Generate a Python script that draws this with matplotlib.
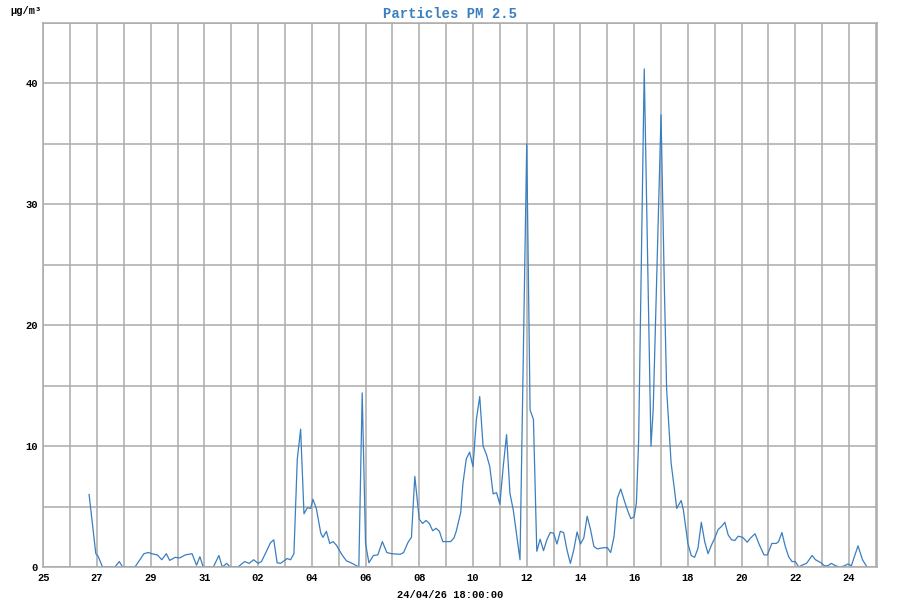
import matplotlib
matplotlib.use("Agg")
import matplotlib.pyplot as plt
import matplotlib.dates as mdates
import pandas as pd

# PM 2.5 readings (month-day hour, ug/m3)
times = [
    "03-26 17", "03-26 23", "03-27 01", "03-27 05", "03-27 16", "03-27 20", "03-27 23",
    "03-28 10", "03-28 18", "03-28 22", "03-29 01", "03-29 06", "03-29 10", "03-29 14",
    "03-29 17", "03-29 22", "03-30 02", "03-30 07", "03-30 13", "03-30 17", "03-30 20",
    "03-30 23", "03-31 08", "03-31 13", "03-31 16", "03-31 20", "03-31 23", "04-01 06",
    "04-01 12", "04-01 16", "04-01 20", "04-02 00", "04-02 03", "04-02 08", "04-02 11",
    "04-02 14", "04-02 17", "04-02 20", "04-03 02", "04-03 05", "04-03 08", "04-03 11",
    "04-03 14", "04-03 17", "04-03 20", "04-03 23", "04-04 01", "04-04 04", "04-04 08",
    "04-04 10", "04-04 13", "04-04 16", "04-04 19", "04-04 22", "04-05 03", "04-05 07",
    "04-05 11", "04-05 15", "04-05 18", "04-05 21", "04-06 00", "04-06 03", "04-06 07",
    "04-06 11", "04-06 15", "04-06 19", "04-06 23", "04-07 07", "04-07 10", "04-07 14",
    "04-07 17", "04-07 20", "04-08 00", "04-08 03", "04-08 06", "04-08 09", "04-08 12",
    "04-08 15", "04-08 18", "04-08 21", "04-09 04", "04-09 07", "04-09 09", "04-09 13",
    "04-09 15", "04-09 18", "04-09 21", "04-10 00", "04-10 03", "04-10 06", "04-10 09",
    "04-10 12", "04-10 15", "04-10 18", "04-10 21", "04-11 00", "04-11 03", "04-11 06",
    "04-11 09", "04-11 12", "04-11 15", "04-11 18", "04-12 00", "04-12 03", "04-12 06",
    "04-12 09", "04-12 12", "04-12 15", "04-12 18", "04-12 21", "04-13 00", "04-13 03",
    "04-13 06", "04-13 09", "04-13 12", "04-13 15", "04-13 18", "04-13 21", "04-14 00",
    "04-14 03", "04-14 06", "04-14 09", "04-14 12", "04-14 15", "04-14 21", "04-15 00",
    "04-15 03", "04-15 06", "04-15 09", "04-15 12", "04-15 15", "04-15 18", "04-15 21",
    "04-16 00", "04-16 02", "04-16 04", "04-16 09", "04-16 15", "04-16 17", "04-17 00",
    "04-17 03", "04-17 05", "04-17 09", "04-17 12", "04-17 14", "04-17 18", "04-17 20",
    "04-18 00", "04-18 03", "04-18 06", "04-18 09", "04-18 12", "04-18 15", "04-18 18",
    "04-18 21", "04-19 00", "04-19 03", "04-19 06", "04-19 09", "04-19 12", "04-19 15",
    "04-19 18", "04-19 21", "04-20 01", "04-20 05", "04-20 08", "04-20 12", "04-20 16",
    "04-20 20", "04-20 23", "04-21 03", "04-21 07", "04-21 09", "04-21 12", "04-21 15",
    "04-21 18", "04-21 21", "04-22 00", "04-22 03", "04-22 06", "04-22 10", "04-22 15",
    "04-22 18", "04-22 23", "04-23 02", "04-23 05", "04-23 08", "04-23 12", "04-23 16",
    "04-23 20", "04-23 23", "04-24 02", "04-24 08", "04-24 12", "04-24 16",
]
pm25 = [
    6.0, 1.1, 0.9, 0.0, 0.0, 0.45, 0.0,
    0.0, 1.1, 1.2, 1.1, 1.0, 0.6, 1.1,
    0.55, 0.8, 0.75, 1.0, 1.1, 0.15, 0.85,
    0.0, 0.0, 0.95, 0.0, 0.3, 0.0, 0.0,
    0.45, 0.3, 0.6, 0.3, 0.45, 1.4, 2.0,
    2.25, 0.35, 0.3, 0.7, 0.6, 1.1, 8.9,
    11.4, 4.4, 4.9, 4.85, 5.6, 4.85, 2.8,
    2.45, 2.95, 1.95, 2.1, 1.8, 1.0, 0.5,
    0.35, 0.15, 0.0, 14.4, 1.95, 0.35, 0.95,
    1.0, 2.1, 1.2, 1.1, 1.05, 1.2, 2.05,
    2.45, 7.5, 3.95, 3.6, 3.85, 3.6, 3.0,
    3.2, 2.95, 2.1, 2.1, 2.4, 2.95, 4.5,
    6.9, 8.95, 9.5, 8.3, 12.2, 14.1, 10.0,
    9.3, 8.3, 6.05, 6.15, 5.2, 8.3, 10.95,
    6.1, 4.7, 2.65, 0.6, 35.0, 13.0, 12.2,
    1.3, 2.3, 1.35, 2.25, 2.85, 2.8, 1.9,
    2.95, 2.85, 1.4, 0.3, 1.4, 2.9, 1.9,
    2.4, 4.2, 3.1, 1.7, 1.5, 1.6, 1.6,
    1.2, 2.5, 5.7, 6.45, 5.55, 4.7, 4.0,
    4.15, 5.3, 10.5, 41.2, 10.0, 13.0, 37.4,
    23.0, 14.7, 8.6, 6.4, 4.85, 5.5, 4.7,
    1.95, 0.95, 0.8, 1.55, 3.7, 2.1, 1.1,
    1.8, 2.4, 3.1, 3.35, 3.7, 2.65, 2.25,
    2.2, 2.55, 2.45, 2.05, 2.4, 2.75, 1.8,
    1.0, 1.0, 1.95, 1.95, 2.1, 2.85, 1.7,
    0.85, 0.45, 0.45, 0.0, 0.15, 0.3, 0.95,
    0.6, 0.35, 0.1, 0.1, 0.3, 0.1, 0.0,
    0.1, 0.25, 0.1, 1.75, 0.6, 0.0,
]

df = pd.DataFrame({"time": pd.to_datetime(["2026-" + t for t in times], format="%Y-%m-%d %H"),
                   "pm25": pm25})

blue = "#3a7fc0"
grid = "#ababab"
mono = "Liberation Mono"

fig = plt.figure(figsize=(9, 6), dpi=100)
ax = fig.add_axes([0.048, 0.055, 0.9265, 0.9067])

ax.plot(df["time"], df["pm25"], color=blue, linewidth=0.9)

ax.set_xlim(pd.Timestamp("2026-03-25 00:00"), pd.Timestamp("2026-04-25 01:00"))
ax.set_ylim(0, 45)

# labelled every second day from the 25th, a grid line every day
ax.set_xticks(pd.date_range("2026-03-25", "2026-04-24", freq="2D"))
ax.xaxis.set_major_formatter(mdates.DateFormatter("%d"))
ax.set_xticks(pd.date_range("2026-03-25", "2026-04-25", freq="D"), minor=True)
ax.set_yticks([0, 10, 20, 30, 40])
ax.set_yticks(range(0, 46, 5), minor=True)

ax.grid(True, which="both", color=grid, linewidth=1.1)
ax.set_axisbelow(True)
for s in ax.spines.values():
    s.set_color(grid)
    s.set_linewidth(1.1)

ax.tick_params(which="both", length=0, pad=4)
for lbl in ax.get_xticklabels() + ax.get_yticklabels():
    lbl.set_fontfamily(mono)
    lbl.set_fontweight("bold")
    lbl.set_fontsize(7.5)

fig.text(0.5, 0.988, "Particles PM 2.5", ha="center", va="top", color=blue,
         fontsize=10, fontweight="bold", fontfamily=mono)
fig.text(0.011, 0.99, "µg/m³", ha="left", va="top", fontsize=7.5,
         fontweight="bold", fontfamily=mono)
fig.text(0.5, 0.0, "24/04/26 18:00:00", ha="center", va="bottom",
         fontsize=7.5, fontweight="bold", fontfamily=mono)

fig.savefig("out.png", dpi=100)
